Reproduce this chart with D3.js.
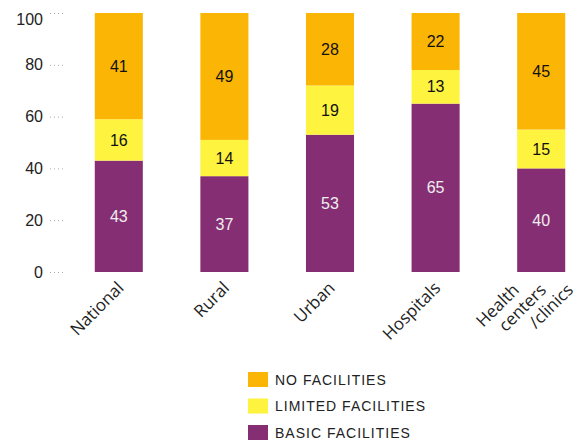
<!DOCTYPE html>
<html>
<head>
<meta charset="utf-8">
<script src="https://cdn.jsdelivr.net/npm/d3@7"></script>
<style>
  body { margin: 0; background: #fff; }
  svg { font-family: "Liberation Sans", Arial, sans-serif; }
</style>
</head>
<body>
<svg id="chart" width="580" height="440"></svg>
<script>
  var categories = ['National', 'Rural', 'Urban', 'Hospitals', 'Health centers /clinics'];
  var basic = [43, 37, 53, 65, 40];
  var limited = [16, 14, 19, 13, 15];
  var none = [41, 49, 28, 22, 45];
  var yTicks = [0, 20, 40, 60, 80, 100];

  var series = [
    {key: 'basic', label: 'BASIC FACILITIES', values: basic, color: '#862e73', text: '#eee'},
    {key: 'limited', label: 'LIMITED FACILITIES', values: limited, color: '#fef33f', text: '#111'},
    {key: 'none', label: 'NO FACILITIES', values: none, color: '#fbb605', text: '#111'}
  ];

  var svg = d3.select('#chart');

  var x = d3.scaleBand().domain(categories).range([66, 594])
      .paddingInner(0.545).paddingOuter(0.2725);
  var y = d3.scaleLinear().domain([0, 100]).range([272, 13]);

  // y axis: labels + dotted ticks
  var yAxis = svg.append('g');
  yAxis.selectAll('line').data(yTicks).enter().append('line')
      .attr('x1', 50).attr('x2', 66)
      .attr('y1', function(d) { return y(d) + 0.5; })
      .attr('y2', function(d) { return y(d) + 0.5; })
      .attr('stroke', '#aaa').attr('stroke-width', 1)
      .attr('stroke-dasharray', '1,3');
  yAxis.selectAll('text').data(yTicks).enter().append('text')
      .attr('x', 43)
      .attr('y', function(d) { return Math.max(y(d), 19); }) // top label kept inside the frame
      .attr('dy', '0.35em')
      .attr('text-anchor', 'end')
      .style('font-size', '16px')
      .attr('fill', '#222')
      .text(function(d) { return d; });

  // stacked bars
  var rows = categories.map(function(c, i) {
    return {cat: c, basic: basic[i], limited: limited[i], none: none[i]};
  });
  var stack = d3.stack().keys(['basic', 'limited', 'none'])(rows);

  function seriesOf(node) {
    var k = d3.select(node.parentNode).datum().key;
    return series.find(function(s) { return s.key === k; });
  }

  var layers = svg.selectAll('.layer').data(stack).enter().append('g')
      .attr('class', 'layer');

  layers.selectAll('rect').data(function(d) { return d; }).enter().append('rect')
      .attr('x', function(d) { return x(d.data.cat); })
      .attr('width', x.bandwidth())
      .attr('y', function(d) { return y(d[1]); })
      .attr('height', function(d) { return y(d[0]) - y(d[1]); })
      .attr('fill', function(d, i, n) { return seriesOf(n[i]).color; });

  layers.selectAll('text').data(function(d) { return d; }).enter().append('text')
      .attr('x', function(d) { return x(d.data.cat) + x.bandwidth() / 2; })
      .attr('y', function(d) { return y((d[0] + d[1]) / 2); })
      .attr('dy', '0.35em')
      .attr('text-anchor', 'middle')
      .style('font-size', '16px')
      .attr('fill', function(d, i, n) { return seriesOf(n[i]).text; })
      .text(function(d) { return d[1] - d[0]; });

  // category labels, rotated; multi-line labels shift right per line
  svg.selectAll('.cat').data(categories).enter().append('g')
      .attr('class', 'cat')
      .each(function(d) {
        var g = d3.select(this);
        var parts = d === 'Health centers /clinics' ? ['Health', 'centers', '/clinics'] : [d];
        var cx = x(d) + x.bandwidth() / 2 + 6;
        parts.forEach(function(p, j) {
          var off = (j - (parts.length - 1) / 2) * 27;
          g.append('text')
            .attr('text-anchor', 'end')
            .attr('transform', 'translate(' + (cx + off) + ',' + (289 + (parts.length > 1 ? 2 : 0)) + ') rotate(-45)')
            .style('font-family', '"Open Sans", sans-serif')
            .style('font-size', '17px')
            .attr('fill', '#222')
            .text(p);
        });
      });

  // legend
  var legendData = [series[2], series[1], series[0]];
  var legend = svg.selectAll('.legend').data(legendData).enter().append('g')
      .attr('class', 'legend')
      .attr('transform', function(d, i) { return 'translate(248,' + (372 + i * 26.5) + ')'; });
  legend.append('rect').attr('width', 20).attr('height', 15)
      .attr('fill', function(d) { return d.color; });
  legend.append('text').attr('x', 27).attr('y', 8).attr('dy', '0.35em')
      .style('font-size', '14px').style('letter-spacing', '1px')
      .attr('fill', '#222')
      .text(function(d) { return d.label; });
</script>
</body>
</html>
